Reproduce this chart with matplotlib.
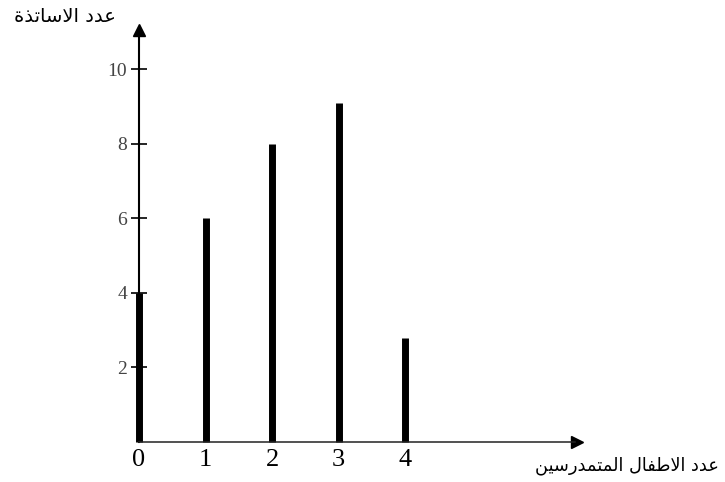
import matplotlib
matplotlib.use("Agg")
import matplotlib.pyplot as plt

# عدد الاطفال المتمدرسين -> عدد الاساتذة
children = [0, 1, 2, 3, 4]
teachers = [4, 6, 8, 9.1, 2.8]
y_ticks = [2, 4, 6, 8, 10]
y_label = "عدد الاساتذة"
x_label = "عدد الاطفال المتمدرسين"

# presentation forms: (isolated code, joins to the next letter)
# final = +1, initial = +2, medial = +3
FORMS = {
    "ا": (0xFE8D, False), "ة": (0xFE93, False), "ت": (0xFE95, True),
    "د": (0xFEA9, False), "ذ": (0xFEAB, False), "ر": (0xFEAD, False),
    "س": (0xFEB1, True), "ط": (0xFEC1, True), "ع": (0xFEC9, True),
    "ف": (0xFED1, True), "ل": (0xFEDD, True), "م": (0xFEE1, True),
    "ن": (0xFEE5, True), "ي": (0xFEF1, True), "لا": (0xFEFB, False),
}


def shape(text):
    chars = []
    i = 0
    while i < len(text):
        if text[i] == "ل" and i + 1 < len(text) and text[i + 1] == "ا":
            chars.append("لا")
            i += 2
        else:
            chars.append(text[i])
            i += 1
    out = []
    for i, c in enumerate(chars):
        if c not in FORMS:
            out.append(c)
            continue
        base, dual = FORMS[c]
        prev = chars[i - 1] if i > 0 else None
        nxt = chars[i + 1] if i + 1 < len(chars) else None
        join_prev = prev in FORMS and FORMS[prev][1]
        join_next = dual and nxt in FORMS
        k = {(False, False): 0, (True, False): 1,
             (False, True): 2, (True, True): 3}[(join_prev, join_next)]
        out.append(chr(base + k))
    return "".join(reversed(out))


fig = plt.figure(figsize=(7.25, 4.82), dpi=100)
ax = fig.add_axes([0, 0, 1, 1])
ax.set_xlim(-2.09, 8.81)
ax.set_ylim(-1.07, 11.85)

ax.vlines(children, 0, teachers, colors="black", lw=5)

for s in ["top", "right"]:
    ax.spines[s].set_visible(False)
ax.spines["left"].set_position(("data", 0))
ax.spines["bottom"].set_position(("data", 0))
ax.spines["left"].set_bounds(0, 11.0)
ax.spines["bottom"].set_bounds(0, 6.55)
ax.spines["left"].set_linewidth(1.5)
ax.spines["bottom"].set_linewidth(1.1)
ax.spines["bottom"].set_color("#222222")

# arrow heads
ax.plot([0], [11.05], marker="^", ms=9, color="black", clip_on=False)
ax.plot([6.58], [0], marker=">", ms=8, color="black", clip_on=False)

ax.set_yticks(y_ticks)
ax.set_yticklabels([str(t) for t in y_ticks], fontfamily="Liberation Serif",
                   fontsize=14, color="#444444")
ax.tick_params(axis="y", direction="inout", length=11, width=1.2, pad=3)

ax.set_xticks(children)
ax.set_xticklabels([str(c) for c in children], fontfamily="Liberation Serif",
                   fontsize=19)
ax.tick_params(axis="x", length=0, pad=5)

# pixel positions, measured from the top edge
ax.text(65, 482 - 17, shape(y_label), transform=None, fontsize=14,
        fontfamily="DejaVu Sans", ha="center", va="center")
ax.text(627, 482 - 466, shape(x_label), transform=None, fontsize=12.8,
        fontfamily="DejaVu Sans", ha="center", va="center")

fig.savefig("out.png", dpi=100)
